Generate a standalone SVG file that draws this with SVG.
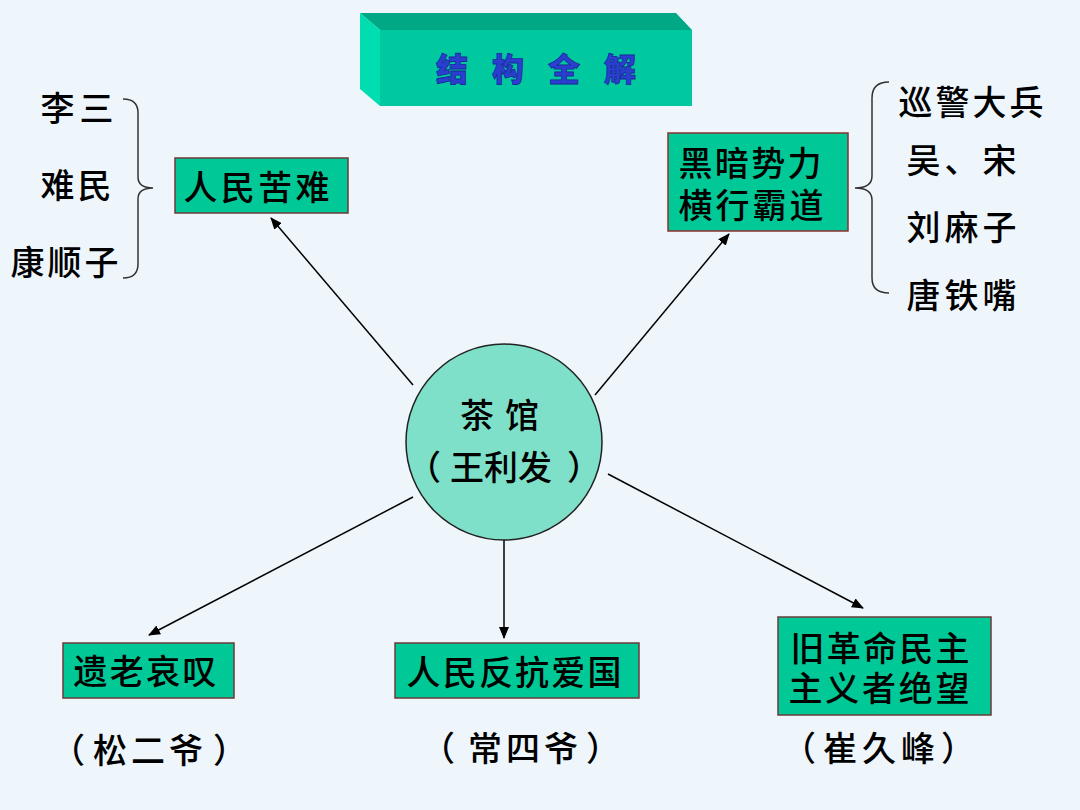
<svg xmlns="http://www.w3.org/2000/svg" width="1080" height="810" viewBox="0 0 1080 810">
<defs>
<style>
.t{font-family:"Noto Sans CJK SC","Liberation Sans",sans-serif;font-size:34px;font-weight:500;fill:#000}
.node{fill:#00C896;stroke:#6B3A3A;stroke-width:1.5}
.conn{stroke:#000;stroke-width:1.5;fill:none;marker-end:url(#ah)}
.brace{stroke:#333;stroke-width:1.5;fill:none}
</style>
<marker id="ah" markerWidth="12" markerHeight="10" refX="11" refY="5" orient="auto" markerUnits="userSpaceOnUse">
<path d="M0,0 L12,5 L0,10 Z" fill="#000"/>
</marker>
</defs>
<rect width="1080" height="810" fill="#EEF6FC"/>

<g id="title">
<polygon points="360,13 676,13 692,30 380,30" fill="#00A886"/>
<polygon points="360,13 380,30 380,106 360,89" fill="#00DDB0"/>
<rect x="380" y="30" width="312" height="76" fill="#00C9A0"/>
<text x="436" y="81" font-family="Noto Sans CJK SC,sans-serif" font-size="32" font-weight="900" fill="#2A3FD0" stroke="#1A2A9A" stroke-width="0.8" textLength="200" lengthAdjust="spacing">结 构 全 解</text>
</g>

<g id="connectors">
<line class="conn" x1="413" y1="385" x2="271" y2="218"/>
<line class="conn" x1="595" y1="395" x2="729" y2="234"/>
<line class="conn" x1="413" y1="497" x2="149" y2="635"/>
<line class="conn" x1="504" y1="540" x2="504" y2="638"/>
<line class="conn" x1="608" y1="474" x2="863" y2="608"/>
</g>

<g id="center">
<circle cx="504" cy="442" r="98" fill="#7EE0C8" stroke="#222" stroke-width="1.5"/>
<text class="t" x="460" y="428" textLength="79" lengthAdjust="spacing">茶 馆</text>
<text class="t" y="480"><tspan x="407">（</tspan><tspan x="450">王利发</tspan><tspan x="567">）</tspan></text>
</g>

<g id="n-people-suffering">
<rect class="node" x="175" y="158" width="173" height="55"/>
<text class="t" x="183.5" y="200" textLength="146" lengthAdjust="spacing">人民苦难</text>
</g>

<g id="left-list">
<path class="brace" d="M123,99 Q138,99 138,113 L138,177 Q138,188 153,188 Q138,188 138,199 L138,264 Q138,278 123,278"/>
<text class="t" x="40.5" y="121" textLength="73" lengthAdjust="spacing">李三</text>
<text class="t" x="40.5" y="198" textLength="71" lengthAdjust="spacing">难民</text>
<text class="t" x="10.5" y="275" textLength="108" lengthAdjust="spacing">康顺子</text>
</g>

<g id="n-dark-forces">
<rect x="668" y="133" width="180" height="98" fill="#00C896" stroke="#8A3030" stroke-width="1.5"/>
<text class="t"><tspan x="678.5" y="176" textLength="143" lengthAdjust="spacing">黑暗势力</tspan><tspan x="678.5" y="218" textLength="145" lengthAdjust="spacing">横行霸道</tspan></text>
</g>

<g id="right-list">
<path class="brace" d="M889,82 Q872,82 872,98 L872,176 Q872,188 855,188 Q872,188 872,200 L872,278 Q872,293 889,293"/>
<text class="t" x="898.5" y="115" textLength="145" lengthAdjust="spacing">巡警大兵</text>
<text class="t" x="906.5" y="173" textLength="110" lengthAdjust="spacing">吴、宋</text>
<text class="t" x="906.5" y="240" textLength="110" lengthAdjust="spacing">刘麻子</text>
<text class="t" x="906.5" y="308" textLength="110" lengthAdjust="spacing">唐铁嘴</text>
</g>

<g id="n-old-lament">
<rect class="node" x="63" y="643" width="171" height="55"/>
<text class="t" x="73.5" y="684" textLength="143" lengthAdjust="spacing">遗老哀叹</text>
</g>
<g id="l-song">
<text class="t" y="763"><tspan x="51">（</tspan><tspan x="93" textLength="110" lengthAdjust="spacing">松二爷</tspan><tspan x="213">）</tspan></text>
</g>

<g id="n-resist">
<rect class="node" x="395" y="643" width="244" height="55"/>
<text class="t" x="406.5" y="685" textLength="215" lengthAdjust="spacing">人民反抗爱国</text>
</g>
<g id="l-chang">
<text class="t" y="761"><tspan x="421">（</tspan><tspan x="468" textLength="110" lengthAdjust="spacing">常四爷</tspan><tspan x="586">）</tspan></text>
</g>

<g id="n-despair">
<rect class="node" x="778" y="617" width="213" height="98"/>
<text class="t"><tspan x="790.5" y="661" textLength="179" lengthAdjust="spacing">旧革命民主</tspan><tspan x="788.5" y="701" textLength="181" lengthAdjust="spacing">主义者绝望</tspan></text>
</g>
<g id="l-cui">
<text class="t" y="761"><tspan x="782">（</tspan><tspan x="823" textLength="112" lengthAdjust="spacing">崔久峰</tspan><tspan x="941">）</tspan></text>
</g>
</svg>
